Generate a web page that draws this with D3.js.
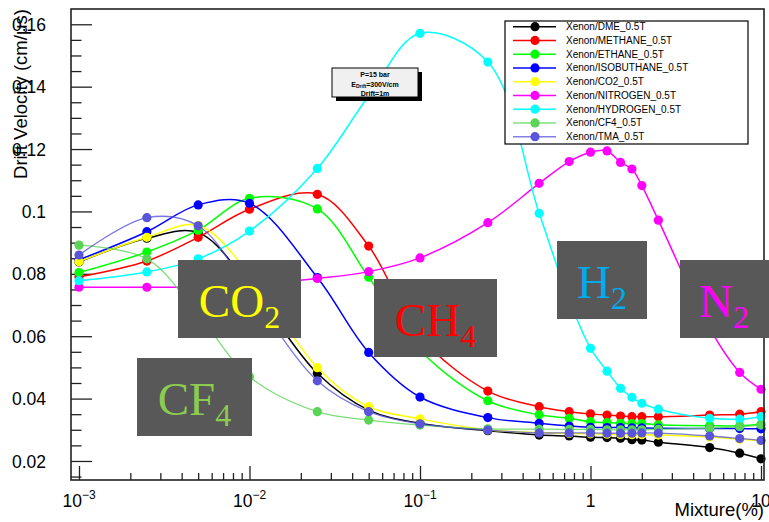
<!DOCTYPE html>
<html>
<head>
<meta charset="utf-8">
<script src="https://cdn.jsdelivr.net/npm/d3@7"></script>
<style>
  html, body { margin: 0; padding: 0; background: #ffffff; }
  svg { display: block; }
  text { font-family: "Liberation Sans", Arial, Helvetica, sans-serif; }
</style>
</head>
<body>
<svg id="chart" width="769" height="522"></svg>
<script>
// Gas admixture fraction (%) in xenon
const mixture = [0.001, 0.0025, 0.005, 0.01, 0.025, 0.05, 0.1, 0.25, 0.5, 0.75, 1, 1.25, 1.5, 1.75, 2, 2.5, 5, 7.5, 10];

// Drift velocity (cm/us) for each quencher, B = 0.5 T
const dme        = [0.0838, 0.0914, 0.0932, 0.0765, 0.0481, 0.0363, 0.0321, 0.0297, 0.0283, 0.0280, 0.0276, 0.0275, 0.0273, 0.0268, 0.0267, 0.0260, 0.0243, 0.0225, 0.0207];
const methane    = [0.0790, 0.0841, 0.0917, 0.1007, 0.1055, 0.0889, 0.0600, 0.0424, 0.0374, 0.0358, 0.0351, 0.0347, 0.0344, 0.0342, 0.0342, 0.0342, 0.0347, 0.0350, 0.0358];
const ethane     = [0.0804, 0.0870, 0.0940, 0.1042, 0.1008, 0.0789, 0.0555, 0.0393, 0.0348, 0.0337, 0.0326, 0.0323, 0.0321, 0.0320, 0.0320, 0.0316, 0.0313, 0.0313, 0.0318];
const isobuthane = [0.0845, 0.0935, 0.1021, 0.1026, 0.0788, 0.0548, 0.0405, 0.0339, 0.0321, 0.0312, 0.0308, 0.0307, 0.0307, 0.0306, 0.0306, 0.0305, 0.0304, 0.0304, 0.0303];
const co2        = [0.0839, 0.0917, 0.0955, 0.0800, 0.0499, 0.0374, 0.0335, 0.0300, 0.0291, 0.0288, 0.0287, 0.0286, 0.0285, 0.0284, 0.0284, 0.0283, 0.0277, 0.0270, 0.0265];
const nitrogen   = [0.0757, 0.0757, 0.0758, 0.0766, 0.0785, 0.0807, 0.0851, 0.0964, 0.1090, 0.1160, 0.1190, 0.1194, 0.1157, 0.1136, 0.1083, 0.0972, 0.0625, 0.0484, 0.0430];
const hydrogen   = [0.0778, 0.0806, 0.0848, 0.0937, 0.1138, 0.1370, 0.1571, 0.1479, 0.0994, 0.0716, 0.0561, 0.0488, 0.0433, 0.0404, 0.0385, 0.0366, 0.0337, 0.0334, 0.0342];
const cf4        = [0.0892, 0.0848, 0.0670, 0.0470, 0.0358, 0.0331, 0.0315, 0.0303, 0.0302, 0.0301, 0.0301, 0.0300, 0.0300, 0.0300, 0.0300, 0.0302, 0.0305, 0.0310, 0.0315];
const tma        = [0.0860, 0.0980, 0.0954, 0.0745, 0.0457, 0.0358, 0.0319, 0.0299, 0.0290, 0.0290, 0.0290, 0.0289, 0.0289, 0.0289, 0.0290, 0.0289, 0.0280, 0.0272, 0.0266];

const seriesNames = ["Xenon/DME_0.5T", "Xenon/METHANE_0.5T", "Xenon/ETHANE_0.5T", "Xenon/ISOBUTHANE_0.5T",
                     "Xenon/CO2_0.5T", "Xenon/NITROGEN_0.5T", "Xenon/HYDROGEN_0.5T", "Xenon/CF4_0.5T", "Xenon/TMA_0.5T"];
const seriesValues = [dme, methane, ethane, isobuthane, co2, nitrogen, hydrogen, cf4, tma];
const seriesColors = ["#000000", "#ff0000", "#00ff00", "#0000ff", "#ffff00", "#ff00ff", "#00ffff", "#59d454", "#5954d9"];

// Axis ticks
const yTicks = [0.02, 0.04, 0.06, 0.08, 0.1, 0.12, 0.14, 0.16];
const yTickLabels = ["0.02", "0.04", "0.06", "0.08", "0.1", "0.12", "0.14", "0.16"];
const xDecades = [0.001, 0.01, 0.1, 1, 10];
const xTickLabels = [["10", "-3"], ["10", "-2"], ["10", "-1"], ["1", ""], ["10", ""]];

const svg = d3.select("#chart");
const frame = { left: 71, right: 764, top: 9, bottom: 480 };

const x = d3.scaleLog()
  .domain([Math.pow(10, -3.0469), Math.pow(10, 1.0176)])
  .range([frame.left, frame.right]);
const y = d3.scaleLinear()
  .domain([0.0139, 0.1649])
  .range([frame.bottom, frame.top]);

svg.append("rect").attr("width", 769).attr("height", 522).attr("fill", "#ffffff");

// ---- Axes (ticks drawn inward, ROOT style) ----
const axisColor = "#222222";
const yMajor = d3.axisLeft(y).tickValues(yTicks).tickSize(-21).tickPadding(25)
  .tickFormat((d, i) => yTickLabels[i]);
const yMinorValues = d3.range(0.015, 0.1649, 0.005).filter(v => !yTicks.some(t => Math.abs(t - v) < 1e-9));
const yMinor = d3.axisLeft(y).tickValues(yMinorValues).tickSize(-10.5).tickFormat("");

const gy = svg.append("g").attr("transform", `translate(${frame.left},0)`).call(yMajor);
svg.append("g").attr("transform", `translate(${frame.left},0)`).call(yMinor)
  .call(g => g.select(".domain").remove());
gy.select(".domain").remove();
gy.selectAll(".tick text").attr("font-size", "17.5px").attr("fill", "#000").attr("dy", "0.35em")
  .style("font-family", "'Liberation Sans', Arial, sans-serif");
svg.selectAll(".tick line").attr("stroke", axisColor).attr("stroke-width", 1.3);

const xMinorValues = [];
xDecades.forEach(d => { for (let m = 2; m <= 9; m++) { const v = d * m; if (v < x.domain()[1]) xMinorValues.push(v); } });
const xMajorAxis = d3.axisBottom(x).tickValues(xDecades).tickSize(-14).tickFormat("");
const xMinorAxis = d3.axisBottom(x).tickValues(xMinorValues).tickSize(-7).tickFormat("");
svg.append("g").attr("transform", `translate(0,${frame.bottom})`).call(xMajorAxis)
  .call(g => g.select(".domain").remove())
  .call(g => g.selectAll("line").attr("stroke", axisColor).attr("stroke-width", 1.3));
svg.append("g").attr("transform", `translate(0,${frame.bottom})`).call(xMinorAxis)
  .call(g => g.select(".domain").remove())
  .call(g => g.selectAll("line").attr("stroke", axisColor).attr("stroke-width", 1.3));

// X tick labels with exponents
const xl = svg.append("g");
xDecades.forEach((d, i) => {
  const t = xl.append("text").attr("x", x(d)).attr("y", 507).attr("text-anchor", "middle")
    .attr("font-size", "17.5px").attr("fill", "#000");
  t.append("tspan").text(xTickLabels[i][0]);
  if (xTickLabels[i][1]) {
    t.append("tspan").attr("font-size", "12px").attr("dy", "-8").text(xTickLabels[i][1].replace("-", "\u2212"));
  }
});

// Axis titles
svg.append("text")
  .attr("transform", `translate(26.5,${frame.top}) rotate(-90)`)
  .attr("text-anchor", "end").attr("font-size", "18.5px").attr("fill", "#000")
  .text("Drift Velocity (cm/\u03bcs)");
svg.append("text")
  .attr("x", frame.right).attr("y", 516).attr("text-anchor", "end")
  .attr("font-size", "18.5px").attr("fill", "#000")
  .text("Mixture(%)");

// ---- Curves and markers ----
const line = d3.line()
  .x(d => x(d[0])).y(d => y(d[1]))
  .curve(d3.curveCatmullRom.alpha(0.5));

const plot = svg.append("g");
seriesValues.forEach((vals, i) => {
  const pts = mixture.map((m, j) => [m, vals[j]]);
  const g = plot.append("g");
  const thin = i >= 7;
  g.append("path").attr("d", line(pts)).attr("fill", "none")
    .attr("stroke", seriesColors[i]).attr("stroke-width", thin ? 1.3 : 1.5)
    .attr("stroke-opacity", thin ? 0.8 : 1);
  g.selectAll("circle").data(pts).join("circle")
    .attr("cx", d => x(d[0])).attr("cy", d => y(d[1])).attr("r", 4.6)
    .attr("fill", seriesColors[i]);
});

// Frame
svg.append("rect")
  .attr("x", frame.left).attr("y", frame.top)
  .attr("width", frame.right - frame.left).attr("height", frame.bottom - frame.top)
  .attr("fill", "none").attr("stroke", axisColor).attr("stroke-width", 1.6);

// ---- Conditions box ----
const pave = svg.append("g");
pave.append("rect").attr("x", 336).attr("y", 72).attr("width", 86).attr("height", 29).attr("fill", "#000");
pave.append("rect").attr("x", 332).attr("y", 68).attr("width", 86).attr("height", 29)
  .attr("fill", "#f0f0f0").attr("stroke", "#000").attr("stroke-width", 1);
pave.append("text").attr("x", 375).attr("y", 76.5).attr("text-anchor", "middle")
  .attr("font-size", "7px").attr("font-weight", "bold").text("P=15 bar");
const eText = pave.append("text").attr("x", 375).attr("y", 86.5).attr("text-anchor", "middle")
  .attr("font-size", "7px").attr("font-weight", "bold");
eText.append("tspan").text("E");
eText.append("tspan").attr("font-size", "5px").attr("dy", "1.5").text("Drift");
eText.append("tspan").attr("dy", "-1.5").text("=300V/cm");
pave.append("text").attr("x", 375).attr("y", 95.5).attr("text-anchor", "middle")
  .attr("font-size", "7px").attr("font-weight", "bold").text("Drift=1m");

// ---- Legend ----
const legend = svg.append("g");
legend.append("rect").attr("x", 505).attr("y", 21).attr("width", 243).attr("height", 123)
  .attr("fill", "#ffffff").attr("stroke", "#000").attr("stroke-width", 1.2);
seriesNames.forEach((name, i) => {
  const yy = 26.7 + i * 13.75;
  const thin = i >= 7;
  legend.append("line").attr("x1", 513).attr("x2", 556).attr("y1", yy).attr("y2", yy)
    .attr("stroke", seriesColors[i]).attr("stroke-width", 1.5)
    .attr("stroke-opacity", thin ? 0.75 : 1);
  legend.append("circle").attr("cx", 535).attr("cy", yy).attr("r", 4.6).attr("fill", seriesColors[i]);
  legend.append("text").attr("x", 566).attr("y", yy).attr("dy", "0.35em")
    .attr("font-size", "10px").attr("fill", "#000").text(name);
});

// ---- Gas labels ----
const boxFill = "#585858";
const gasLabels = [
  { main: "CO", sub: "2", color: "#ffff00", x0: 178, y0: 260, x1: 301, y1: 338 },
  { main: "CH", sub: "4", color: "#ff0000", x0: 374, y0: 279, x1: 497, y1: 357 },
  { main: "H",  sub: "2", color: "#00aaee", x0: 557, y0: 241, x1: 647, y1: 319 },
  { main: "N",  sub: "2", color: "#ff00ff", x0: 680, y0: 260, x1: 775, y1: 338 },
  { main: "CF", sub: "4", color: "#8ccb50", x0: 137, y0: 358, x1: 252, y1: 436 }
];
gasLabels.forEach(b => {
  svg.append("rect").attr("x", b.x0).attr("y", b.y0).attr("width", b.x1 - b.x0).attr("height", b.y1 - b.y0)
    .attr("fill", boxFill);
  const cx = b.x0 === 680 ? 724 : (b.x0 + b.x1) / 2;
  const t = svg.append("text").attr("x", cx).attr("y", (b.y0 + b.y1) / 2 + 17.7)
    .attr("text-anchor", "middle").attr("fill", b.color)
    .style("font-family", "'Liberation Serif', 'Times New Roman', serif").attr("font-size", "47px");
  t.append("tspan").text(b.main);
  t.append("tspan").attr("font-size", "32px").attr("dy", "11.5").text(b.sub);
});
</script>
</body>
</html>
